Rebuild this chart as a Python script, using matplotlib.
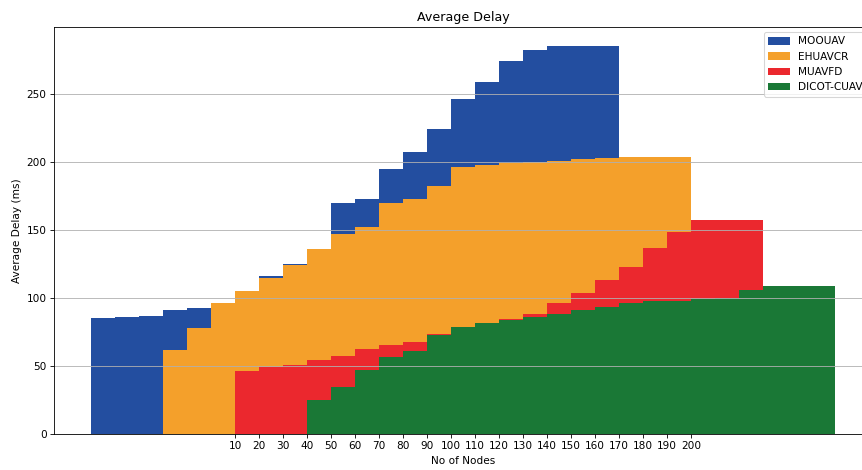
import numpy as np
import matplotlib
matplotlib.use("Agg")
import matplotlib.pyplot as plt

nodes = [10, 20, 30, 40, 50, 60, 70, 80, 90, 100, 110, 120, 130, 140, 150, 160, 170, 180, 190, 200]
series_names = ["MOOUAV", "EHUAVCR", "MUAVFD", "DICOT-CUAV"]
mooauv = [85, 86, 87, 91, 93, 95, 104, 116, 125, 132, 170, 173, 195, 207, 224, 246, 259, 274, 282, 285]
ehuavcr = [61.5, 78, 96, 105, 114.5, 124, 136, 147, 152, 170, 173, 182, 196, 197.5, 199.5, 200, 201, 202, 203, 203.5]
muavfd = [46.5, 49, 50.5, 54.5, 57, 62.5, 65.5, 68, 73.5, 77, 80, 84.5, 88.5, 96, 103.5, 113.5, 123, 137, 148.5, 157]
dicot = [25, 34.5, 47, 56.5, 61, 73, 79, 81.5, 84, 86, 88.5, 91.5, 93.5, 96, 97.5, 98, 99, 100, 106, 109]
colors = ["#234ea0", "#f4a02b", "#eb282e", "#1a7836"]

DPI = 76
fig = plt.figure(figsize=(862 / DPI, 470 / DPI), dpi=DPI)
ax = fig.add_axes([54 / 862, 36 / 470, 818 / 862, 407 / 470])

x = np.array(nodes)
width = 30
for i, (name, vals, c) in enumerate(zip(series_names, [mooauv, ehuavcr, muavfd, dicot], colors)):
    ax.bar(x + (i - 1.5) * width, vals, width=width, color=c, label=name)

ax.set_xticks(nodes)
ax.set_xticklabels([str(n) for n in nodes])
ax.set_xlabel("No of Nodes")
ax.set_ylabel("Average Delay (ms)")
ax.set_title("Average Delay")
ax.grid(axis="y")
ax.legend(loc="upper right")

fig.savefig("out.png", dpi=DPI)
